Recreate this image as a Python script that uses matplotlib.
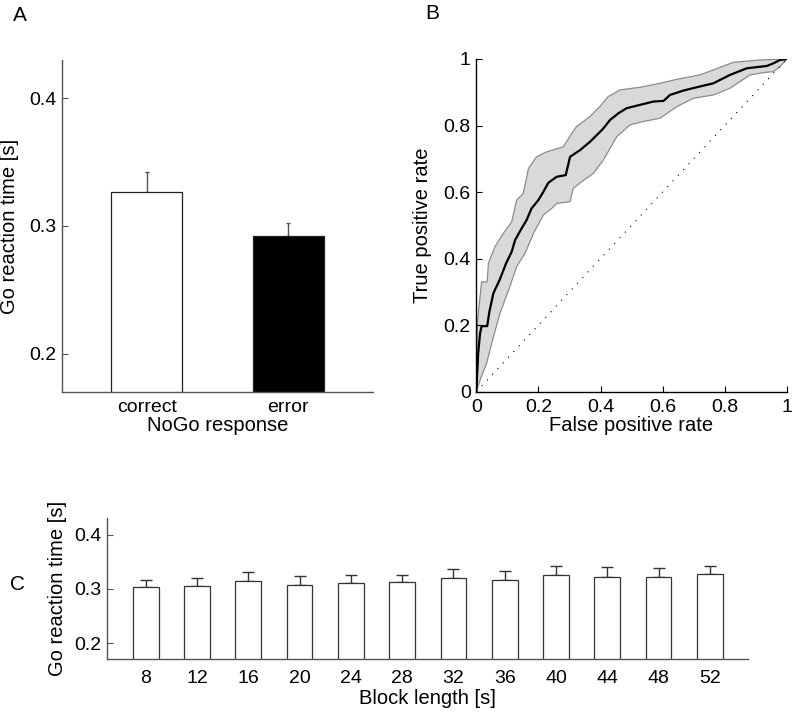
import matplotlib
matplotlib.use('Agg')
import matplotlib.pyplot as plt
import numpy as np

plt.rcParams['font.family'] = ['Liberation Sans', 'DejaVu Sans']

# panel A: Go RT after correct / error NoGo
nogo_labels = ['correct', 'error']
nogo_rt = [0.327, 0.292]
nogo_sem = [0.015, 0.010]

# panel B: ROC curve (mean and band)
roc_fpr = [0, 0.006, 0.012, 0.017, 0.035, 0.042, 0.055, 0.076, 0.096, 0.114, 0.125, 0.146,
           0.162, 0.178, 0.2, 0.216, 0.232, 0.259, 0.288, 0.302, 0.334, 0.366, 0.393, 0.409,
           0.431, 0.458, 0.484, 0.527, 0.57, 0.603, 0.624, 0.667, 0.71, 0.764, 0.785, 0.817,
           0.871, 0.936, 0.957, 0.978, 1.0]
roc_tpr = [0, 0.115, 0.175, 0.197, 0.197, 0.24, 0.296, 0.338, 0.386, 0.421, 0.456, 0.491,
           0.516, 0.551, 0.576, 0.601, 0.628, 0.646, 0.651, 0.706, 0.726, 0.751, 0.776, 0.791,
           0.817, 0.837, 0.852, 0.862, 0.872, 0.874, 0.892, 0.905, 0.915, 0.927, 0.937, 0.952,
           0.972, 0.979, 0.987, 0.997, 1.0]
upper_fpr = [0, 0.004, 0.017, 0.035, 0.039, 0.06, 0.087, 0.114, 0.13, 0.151, 0.168, 0.194,
             0.227, 0.28, 0.307, 0.323, 0.366, 0.398, 0.425, 0.463, 0.527, 0.592, 0.646,
             0.72, 0.828, 0.914, 1.0]
upper_tpr = [0, 0.215, 0.33, 0.33, 0.386, 0.436, 0.476, 0.511, 0.576, 0.596, 0.671, 0.706,
             0.721, 0.736, 0.776, 0.797, 0.827, 0.857, 0.887, 0.907, 0.915, 0.927, 0.939,
             0.952, 0.99, 0.997, 1.0]
lower_fpr = [0, 0.012, 0.033, 0.055, 0.076, 0.108, 0.13, 0.157, 0.184, 0.216, 0.243, 0.259,
             0.302, 0.312, 0.339, 0.377, 0.409, 0.452, 0.495, 0.538, 0.592, 0.646, 0.7,
             0.764, 0.817, 0.882, 0.925, 0.957, 0.978, 1.0]
lower_tpr = [0, 0.035, 0.085, 0.165, 0.235, 0.316, 0.376, 0.416, 0.476, 0.531, 0.551, 0.566,
             0.571, 0.611, 0.631, 0.656, 0.696, 0.766, 0.802, 0.812, 0.822, 0.857, 0.882,
             0.892, 0.912, 0.952, 0.959, 0.962, 0.977, 1.0]

# panel C: Go RT by block length
block_len = [8, 12, 16, 20, 24, 28, 32, 36, 40, 44, 48, 52]
block_rt = [0.304, 0.305, 0.314, 0.307, 0.311, 0.312, 0.320, 0.316, 0.325, 0.322, 0.322, 0.327]
block_sem = [0.012, 0.015, 0.017, 0.016, 0.015, 0.014, 0.016, 0.016, 0.018, 0.018, 0.016, 0.016]

spine_col = '#555555'
fs_tick = 14
fs_lab = 14.5

fig = plt.figure(figsize=(7.94, 7.14), dpi=100)

def style(ax, col):
    for s in ['top', 'right']:
        ax.spines[s].set_visible(False)
    for s in ['left', 'bottom']:
        ax.spines[s].set_color(col)
        ax.spines[s].set_linewidth(1.0)
    ax.tick_params(direction='in', length=4, width=0.8, colors=col, labelcolor='black',
                   labelsize=fs_tick, pad=4)

# A
axA = fig.add_axes([0.0781, 0.451, 0.3917, 0.465])
x = np.arange(1, len(nogo_rt) + 1)
axA.bar(x, nogo_rt, width=0.5, color=['white', 'black'], edgecolor='#222222', linewidth=0.9, zorder=2)
axA.errorbar(x, nogo_rt, yerr=[np.zeros(len(nogo_sem)), nogo_sem], fmt='none',
             ecolor='#555555', elinewidth=1.0, capsize=1.2, zorder=1)
axA.set_xlim(0.4, 2.6)
axA.set_ylim(0.17, 0.43)
axA.set_yticks([0.2, 0.3, 0.4])
axA.set_yticklabels(['0.2', '0.3', '0.4'])
axA.set_xticks(x)
axA.set_xticklabels(nogo_labels)
style(axA, spine_col)
axA.tick_params(axis='x', length=0, pad=5)
axA.set_xlabel('NoGo response', fontsize=fs_lab, labelpad=0)
axA.set_ylabel('Go reaction time [s]', fontsize=fs_lab)
axA.yaxis.set_label_coords(-0.138, 0.5)

# B
axB = fig.add_axes([0.5999, 0.4514, 0.391, 0.466])
poly_x = list(upper_fpr) + list(lower_fpr[::-1])
poly_y = list(upper_tpr) + list(lower_tpr[::-1])
axB.fill(poly_x, poly_y, facecolor='#d9d9d9', edgecolor='#8c8c8c', linewidth=0.9, zorder=1)
axB.plot([0, 1], [0, 1], color='black', linewidth=0.8, linestyle=(0, (1, 6)), zorder=2)
axB.plot(roc_fpr, roc_tpr, color='black', linewidth=1.6, zorder=3)
axB.set_xlim(0, 1)
axB.set_ylim(0, 1)
ticks = [0, 0.2, 0.4, 0.6, 0.8, 1]
tlabels = ['0', '0.2', '0.4', '0.6', '0.8', '1']
axB.set_xticks(ticks)
axB.set_xticklabels(tlabels)
axB.set_yticks(ticks)
axB.set_yticklabels(tlabels)
style(axB, 'black')
axB.tick_params(axis='x', pad=5)
axB.set_xlabel('False positive rate', fontsize=fs_lab, labelpad=0)
axB.set_ylabel('True positive rate', fontsize=fs_lab)
axB.yaxis.set_label_coords(-0.143, 0.5)

# C
axC = fig.add_axes([0.1351, 0.0766, 0.8073, 0.1974])
axC.bar(block_len, block_rt, width=2, color='white', edgecolor='#333333', linewidth=0.9, zorder=2)
axC.errorbar(block_len, block_rt, yerr=[np.zeros(len(block_sem)), block_sem], fmt='none',
             ecolor='#333333', elinewidth=1.0, capsize=4.3, zorder=1)
axC.set_xlim(5, 55)
axC.set_ylim(0.17, 0.43)
axC.set_yticks([0.2, 0.3, 0.4])
axC.set_yticklabels(['0.2', '0.3', '0.4'])
axC.set_xticks(block_len)
style(axC, spine_col)
axC.tick_params(axis='x', length=0, pad=8)
axC.set_xlabel('Block length [s]', fontsize=fs_lab, labelpad=1)
axC.set_ylabel('Go reaction time [s]', fontsize=fs_lab)
axC.yaxis.set_label_coords(-0.063, 0.5)

# panel letters
fig.text(0.016, 0.971, 'A', fontsize=15)
fig.text(0.536, 0.973, 'B', fontsize=15)
fig.text(0.012, 0.174, 'C', fontsize=15)

fig.savefig('out.png', dpi=100)
